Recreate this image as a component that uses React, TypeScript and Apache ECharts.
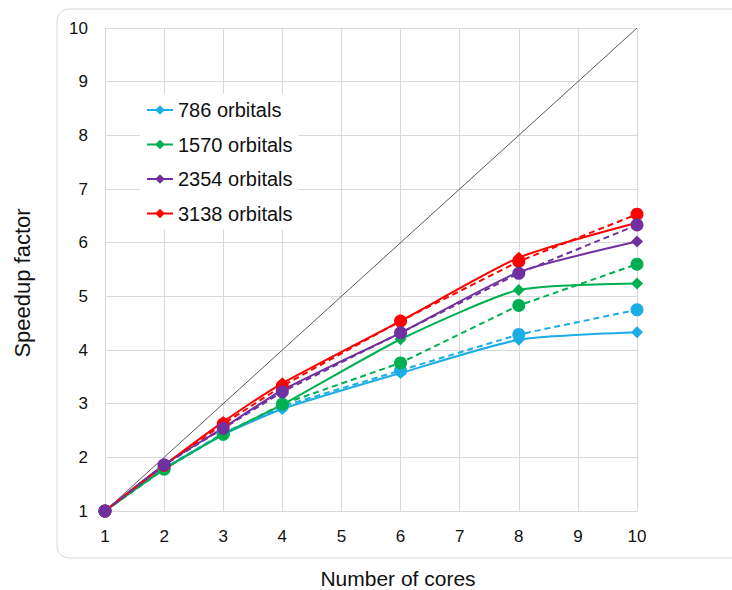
import React, { useEffect, useRef } from "react";
import * as echarts from "echarts";

const cores = [1, 2, 3, 4, 6, 8, 10];
const seriesNames = ["786 orbitals", "1570 orbitals", "2354 orbitals", "3138 orbitals"];
const colors = ["#1CADE4", "#00B050", "#7030A0", "#FF0000"];
const measured786 = [1, 1.78, 2.42, 2.9, 3.57, 4.19, 4.33];
const measured1570 = [1, 1.78, 2.43, 2.98, 4.2, 5.12, 5.24];
const measured2354 = [1, 1.86, 2.55, 3.25, 4.32, 5.45, 6.02];
const measured3138 = [1, 1.85, 2.66, 3.38, 4.54, 5.72, 6.37];
const model786 = [1, 1.8, 2.45, 2.95, 3.62, 4.29, 4.75];
const model1570 = [1, 1.78, 2.43, 2.99, 3.76, 4.83, 5.6];
const model2354 = [1, 1.86, 2.54, 3.22, 4.32, 5.43, 6.33];
const model3138 = [1, 1.85, 2.62, 3.33, 4.54, 5.65, 6.53];
const idealX = [1, 10];
const idealY = [1, 10];

const FONT = "Liberation Sans";

export default function App() {
  const ref = useRef<HTMLDivElement>(null);
  useEffect(() => {
    if (!ref.current) return;
    const chart = echarts.init(ref.current, null, { renderer: "svg" });
    const pair = (ys: number[]) => cores.map((c, i) => [c, ys[i]]);
    const measured = [measured786, measured1570, measured2354, measured3138];
    const models = [model786, model1570, model2354, model3138];
    const solidSeries = measured.map((d, i) => ({
      name: seriesNames[i],
      type: "line",
      data: pair(d),
      smooth: 0.2,
      symbol: "diamond",
      symbolSize: 12,
      lineStyle: { color: colors[i], width: 2 },
      itemStyle: { color: colors[i] },
      z: 3,
    }));
    const modelOrder = [0, 1, 3, 2];
    const dashedSeries = modelOrder.map((i) => ({
      name: "model " + seriesNames[i],
      type: "line",
      data: pair(models[i]),
      symbol: "circle",
      symbolSize: 13,
      lineStyle: { color: colors[i], width: 2, type: [6, 4] },
      itemStyle: { color: colors[i] },
      z: 4,
    }));
    chart.setOption({
      animation: false,
      backgroundColor: "#ffffff",
      grid: { left: 105, right: 95, top: 28, bottom: 79 },
      xAxis: {
        type: "value",
        min: 1,
        max: 10,
        interval: 1,
        axisLine: { show: true, lineStyle: { color: "#d9d9d9" } },
        axisTick: { show: false },
        splitLine: { show: true, lineStyle: { color: "#d9d9d9", width: 1 } },
        axisLabel: { color: "#111", fontFamily: FONT, fontSize: 17, margin: 17 },
      },
      yAxis: {
        type: "value",
        min: 1,
        max: 10,
        interval: 1,
        axisLine: { show: true, lineStyle: { color: "#d9d9d9" } },
        axisTick: { show: false },
        splitLine: { show: true, lineStyle: { color: "#d9d9d9", width: 1 } },
        axisLabel: { color: "#111", fontFamily: FONT, fontSize: 17, margin: 17 },
      },
      legend: {
        data: seriesNames,
        orient: "vertical",
        left: 140,
        top: 94,
        padding: [6, 6, 6, 6],
        backgroundColor: "#ffffff",
        itemGap: 14.5,
        itemWidth: 26,
        itemHeight: 12,
        textStyle: { fontFamily: FONT, fontSize: 20, color: "#111", lineHeight: 20 },
      },
      graphic: [
        {
          type: "rect",
          shape: { x: 57, y: 9, width: 720, height: 549, r: 12 },
          style: { fill: "none", stroke: "#d9d9d9", lineWidth: 1 },
          z: -1,
        },
        {
          type: "text",
          x: 22,
          y: 283,
          rotation: Math.PI / 2,
          style: {
            text: "Speedup factor",
            fontFamily: FONT,
            fontSize: 22,
            fill: "#111",
            align: "center",
            verticalAlign: "middle",
          },
        },
        {
          type: "text",
          x: 398,
          y: 578,
          style: {
            text: "Number of cores",
            fontFamily: FONT,
            fontSize: 21,
            fill: "#111",
            align: "center",
            verticalAlign: "middle",
          },
        },
      ],
      series: [
        {
          name: "ideal",
          type: "line",
          data: idealX.map((x, i) => [x, idealY[i]]),
          symbol: "none",
          lineStyle: { color: "#595959", width: 1 },
          z: 2,
        },
        ...solidSeries,
        ...dashedSeries,
      ],
    });
    return () => chart.dispose();
  }, []);
  return (
    <div
      ref={ref}
      style={{ position: "fixed", left: 0, top: 0, width: 732, height: 590 }}
    />
  );
}
